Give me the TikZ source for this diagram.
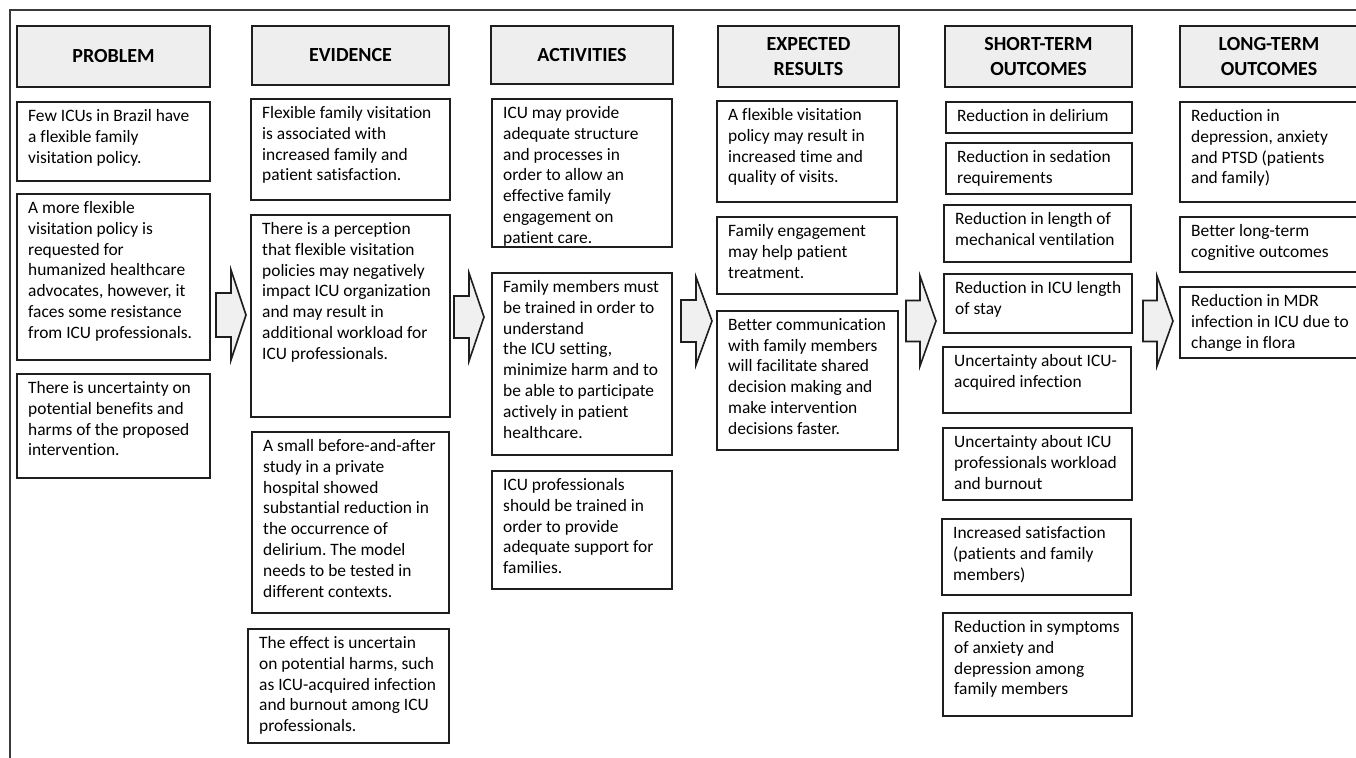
\documentclass[tikz,border=0pt]{standalone}
\usepackage{fontspec}
\setmainfont[Ligatures=NoCommon]{Carlito}
\frenchspacing
\definecolor{bord}{HTML}{1E1E1E}
\definecolor{hdfill}{HTML}{EEEEEE}
\definecolor{arfill}{HTML}{F0F0F0}
\definecolor{frame}{HTML}{3A3A3A}
\tikzset{
  boxst/.style={draw=bord, line width=1pt, inner sep=0pt, outer sep=0pt, fill=white},
  hdst/.style={draw=bord, line width=1pt, inner sep=0pt, outer sep=0pt, fill=hdfill,
    align=center, font=\bfseries\fontsize{10}{12.5}\selectfont},
  txt/.style={inner sep=0pt, outer sep=0pt, align=left, font=\fontsize{8.7}{10.45}\selectfont},
  arst/.style={draw=bord, line width=0.8pt, fill=arfill, line join=miter},
}
\newcommand\bx[6]{%
  \node[boxst, minimum width={(#4-#2)*0.5pt}, minimum height={(#5-#3)*0.5pt}, anchor=north west] (#1) at (#2,#3) {};
  \node[txt, anchor=north west] (#1t) at ([xshift=5.6pt,yshift=-3.6pt]#1.north west) {#6};
}
\newcommand\hd[6]{%
  \node[hdst, minimum width={(#4-#2)*0.5pt}, minimum height={(#5-#3)*0.5pt}] (#1) at ({(#2+#4)/2},{(#3+#5)/2}) {#6};
}
% block arrow: x shaft-left, x head-base, x tip, y tip, shaft half height, head half height
\newcommand\barrow[6]{%
  \draw[arst] (#1,#4-#5) -- (#2,#4-#5) -- (#2,#4-#6) -- (#3,#4) -- (#2,#4+#6) -- (#2,#4+#5) -- (#1,#4+#5) -- cycle;
}
\begin{document}
\begin{tikzpicture}[x=0.5pt,y=-0.5pt]
\clip (0,0) rectangle (1356,757);
\fill[white] (0,0) rectangle (1356,757);
% outer frame
\coordinate (ftl) at (10,10);
\coordinate (ftr) at (1370,10);
\coordinate (fbl) at (10,770);
\draw[frame, line width=1.3pt] (ftr) -- (ftl) -- (fbl);

% headers
\hd{hP}{17}{26}{210}{87}{PROBLEM}
\hd{hE}{252}{26}{449}{85}{EVIDENCE}
\hd{hA}{491}{26}{673}{84}{ACTIVITIES}
\hd{hX}{718}{26}{899}{87}{EXPECTED\\RESULTS}
\hd{hS}{945}{26}{1132}{87}{SHORT-TERM\\OUTCOMES}
\hd{hL}{1180}{26}{1358}{87}{LONG-TERM\\OUTCOMES}

% problem
\bx{p1}{17}{102}{210}{181}{Few ICUs in Brazil have\\a flexible family\\visitation policy.}
\bx{p2}{17}{194}{210}{360}{A more flexible\\visitation policy is\\requested for\\humanized healthcare\\advocates, however, it\\faces some resistance\\from ICU professionals.}
\bx{p3}{17}{374}{210}{478}{There is uncertainty on\\potential benefits and\\harms of the proposed\\intervention.}

% evidence
\bx{e1}{251}{99}{450}{200}{Flexible family visitation\\is associated with\\increased family and\\patient satisfaction.}
\bx{e2}{251}{215}{450}{417}{There is a perception\\that flexible visitation\\policies may negatively\\impact ICU organization\\and may result in\\additional workload for\\ICU professionals.}
\bx{e3}{252}{432}{449}{613}{A small before-and-after\\study in a private\\hospital showed\\substantial reduction in\\the occurrence of\\delirium. The model\\needs to be tested in\\different contexts.}
\bx{e4}{248}{629}{449}{743}{The effect is uncertain\\on potential harms, such\\as ICU-acquired infection\\and burnout among ICU\\professionals.}

% activities
\bx{a1}{492}{99}{672}{247}{ICU may provide\\adequate structure\\and processes in\\order to allow an\\effective family\\engagement on\\patient care.}
\bx{a2}{492}{273}{672}{455}{Family members must\\be trained in order to\\understand\\the ICU setting,\\minimize harm and to\\be able to participate\\actively in patient\\healthcare.}
\bx{a3}{492}{471}{672}{589}{ICU professionals\\should be trained in\\order to provide\\adequate support for\\families.}

% expected results
\bx{x1}{717}{101}{897}{202}{A flexible visitation\\policy may result in\\increased time and\\quality of visits.}
\bx{x2}{717}{217}{897}{294}{Family engagement\\may help patient\\treatment.}
\bx{x3}{717}{311}{898}{450}{Better communication\\with family members\\will facilitate shared\\decision making and\\make intervention\\decisions faster.}

% short-term outcomes
\bx{s1}{946}{102}{1132}{133}{Reduction in delirium}
\bx{s2}{946}{143}{1132}{194}{Reduction in sedation\\requirements}
\bx{s3}{944}{205}{1131}{262}{Reduction in length of\\mechanical ventilation}
\bx{s4}{944}{274}{1132}{333}{Reduction in ICU length\\of stay}
\bx{s5}{943}{347}{1131}{413}{Uncertainty about ICU-\\acquired infection}
\bx{s6}{943}{428}{1132}{500}{Uncertainty about ICU\\professionals workload\\and burnout}
\bx{s7}{942}{519}{1131}{595}{Increased satisfaction\\(patients and family\\members)}
\bx{s8}{943}{613}{1132}{716}{Reduction in symptoms\\of anxiety and\\depression among\\family members}

% long-term outcomes
\bx{l1}{1180}{102}{1362}{202}{Reduction in\\depression, anxiety\\and PTSD (patients\\and family)}
\bx{l2}{1180}{217}{1362}{272}{Better long-term\\cognitive outcomes}
\bx{l3}{1180}{287}{1362}{358}{Reduction in MDR\\infection in ICU due to\\change in flora}

% block arrows between columns
\barrow{216}{231}{246}{315}{22}{45}
\barrow{454}{469}{484}{317}{21}{44}
\barrow{681}{696}{712}{321}{21}{44}
\barrow{906}{920}{936}{321}{20.5}{45}
\barrow{1143}{1157}{1173}{321}{20.5}{45}
\end{tikzpicture}
\end{document}
